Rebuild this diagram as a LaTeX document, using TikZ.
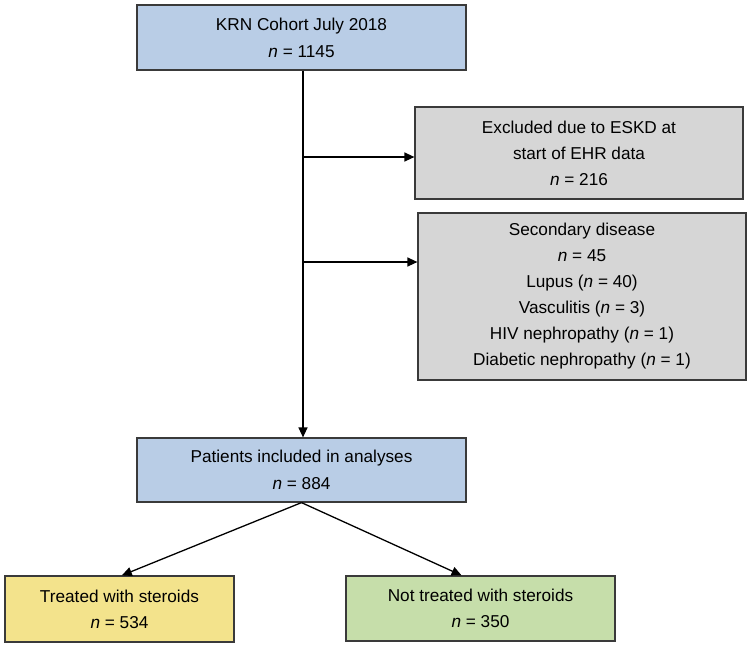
\documentclass[tikz,border=0pt]{standalone}
\usepackage{fontspec}
\setmainfont{Liberation Sans}
\usetikzlibrary{arrows.meta,calc}
\definecolor{boxblue}{RGB}{185,205,230}
\definecolor{boxgrey}{RGB}{214,214,214}
\definecolor{boxyellow}{RGB}{243,227,140}
\definecolor{boxgreen}{RGB}{198,222,170}
\definecolor{edgecol}{RGB}{58,58,58}
\tikzset{
  flowbox/.style={draw=edgecol, line width=1.2pt, inner sep=0pt, align=center,
    font=\fontsize{17.2}{26}\selectfont},
  arr/.style={line width=1.3pt, -{Triangle[length=10pt,width=9pt]}},
}
\newcommand{\nn}{\textit{n}}
\begin{document}
\begin{tikzpicture}[x=1pt,y=-1pt]
\useasboundingbox (0,0) rectangle (747,646);
\node[flowbox, fill=boxblue, minimum width=329pt, minimum height=65pt] (top) at (301.5,37.5)
  {KRN Cohort July 2018\\[1pt] \nn{} = 1145};
\node[flowbox, fill=boxgrey, minimum width=328pt, minimum height=92pt] (g1) at (579,153)
  {Excluded due to ESKD at\\ start of EHR data\\ \nn{} = 216};
\node[flowbox, fill=boxgrey, minimum width=328pt, minimum height=167pt] (g2) at (582,296.5)
  {Secondary disease\\ \nn{} = 45\\ Lupus (\nn{} = 40)\\ Vasculitis (\nn{} = 3)\\ HIV nephropathy (\nn{} = 1)\\ Diabetic nephropathy (\nn{} = 1)};
\node[flowbox, fill=boxblue, minimum width=329pt, minimum height=64pt] (pat) at (301.5,470)
  {Patients included in analyses\\[1pt] \nn{} = 884};
\node[flowbox, fill=boxyellow, minimum width=229pt, minimum height=66pt] (tr) at (119.5,609)
  {Treated with steroids\\ \nn{} = 534};
\node[flowbox, fill=boxgreen, minimum width=269pt, minimum height=65pt] (nt) at (480.5,608.5)
  {Not treated with steroids\\ \nn{} = 350};
\coordinate (b1) at (303,157);
\coordinate (b2) at (303,262);
\draw[arr] (top.south -| b1) -- (pat.north -| b1);
\draw[arr] (b1) -- (b1 -| g1.west);
\draw[arr] (b2) -- (b2 -| g2.west);
\draw[arr] (pat.south) -- ($(tr.north west)!0.51!(tr.north east)$);
\draw[arr] (pat.south) -- ($(nt.north west)!0.43!(nt.north east)$);
\end{tikzpicture}
\end{document}
